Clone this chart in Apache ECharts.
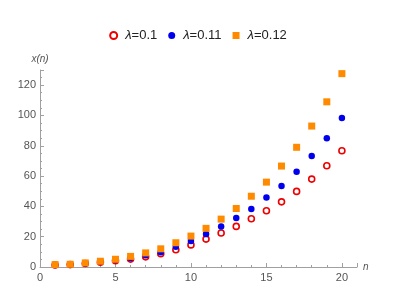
<!DOCTYPE html>
<html><head><meta charset="utf-8">
<script src="https://cdn.jsdelivr.net/npm/echarts@6/dist/echarts.min.js"></script>
<style>html,body{margin:0;padding:0;background:#fff}#c{width:396px;height:289px}</style>
</head><body><div id="c"></div>
<script>
const nValues = [1,2,3,4,5,6,7,8,9,10,11,12,13,14,15,16,17,18,19,20];
const seriesNames = ['0.1','0.11','0.12'];
const lambda010 = [1.3,1.6,2.3,3.2,4.2,5.2,6.7,8.7,11.4,14.6,18.4,22.4,26.8,31.8,37.1,43.0,49.9,58.0,66.8,76.7];
const lambda011 = [1.4,1.7,2.5,3.5,4.6,6.0,7.8,9.8,13.3,17.2,21.8,26.8,32.3,38.3,45.8,53.4,62.8,73.2,85.0,98.3];
const lambda012 = [1.6,1.8,2.7,3.8,5.1,7.0,9.3,12.0,16.0,20.4,25.5,31.6,38.6,46.7,56.0,66.6,79.0,93.0,109.0,127.6];

const pair = arr => nValues.map((n,i)=>[n,arr[i]]);
const chart = echarts.init(document.getElementById('c'));
const axisCol = '#a0a0a0';
const labCol = '#555';
chart.setOption({
  animation:false,
  legend:{
    top:24, left:'center', itemWidth:7, itemHeight:7, itemGap:11,
    textStyle:{fontFamily:'Liberation Sans', fontSize:13, color:'#222',
      rich:{i:{fontStyle:'italic', fontFamily:'Liberation Sans', fontSize:13, color:'#222', padding:[0,0,0,3]},
            t:{fontFamily:'Liberation Sans', fontSize:13, color:'#222'}}},
    formatter: name => '{i|λ}{t|=' + name + '}',
    data: seriesNames
  },
  grid:{left:40, right:39, top:70, bottom:22, containLabel:false},
  xAxis:{
    type:'value', min:0, max:21, interval:5,
    name:'n', nameLocation:'end', nameGap:6,
    nameTextStyle:{fontStyle:'italic', color:labCol, fontSize:10, fontFamily:'Liberation Sans', verticalAlign:'middle'},
    axisLine:{onZero:false, lineStyle:{color:axisCol}},
    axisTick:{inside:true, length:4, lineStyle:{color:axisCol}},
    minorTick:{show:true, splitNumber:5, length:2, lineStyle:{color:axisCol}},
    splitLine:{show:false},
    axisLabel:{color:labCol, fontSize:11, fontFamily:'Liberation Sans', margin:5, showMaxLabel:false}
  },
  yAxis:{
    type:'value', min:0, max:130, interval:20,
    name:'x(n)', nameLocation:'end', nameGap:6,
    nameTextStyle:{fontStyle:'italic', color:labCol, fontSize:10, fontFamily:'Liberation Sans', align:'center'},
    axisLine:{show:true, lineStyle:{color:axisCol}},
    axisTick:{show:true, inside:true, length:4, lineStyle:{color:axisCol}},
    minorTick:{show:true, splitNumber:4, length:2, lineStyle:{color:axisCol}},
    splitLine:{show:false},
    axisLabel:{color:labCol, fontSize:11, fontFamily:'Liberation Sans', margin:4, showMaxLabel:false}
  },
  series:[
    {name:'0.1', type:'scatter', symbol:'circle', symbolSize:6, z:2,
     itemStyle:{color:'#fff', borderColor:'#ee0000', borderWidth:1.6, opacity:1},
     data:pair(lambda010)},
    {name:'0.11', type:'scatter', symbol:'circle', symbolSize:6.5, z:3,
     itemStyle:{color:'#0000ee', opacity:1},
     data:pair(lambda011)},
    {name:'0.12', type:'scatter', symbol:'rect', symbolSize:7, z:4,
     itemStyle:{color:'#ff8a00', opacity:1},
     data:pair(lambda012)}
  ]
});
</script></body></html>
